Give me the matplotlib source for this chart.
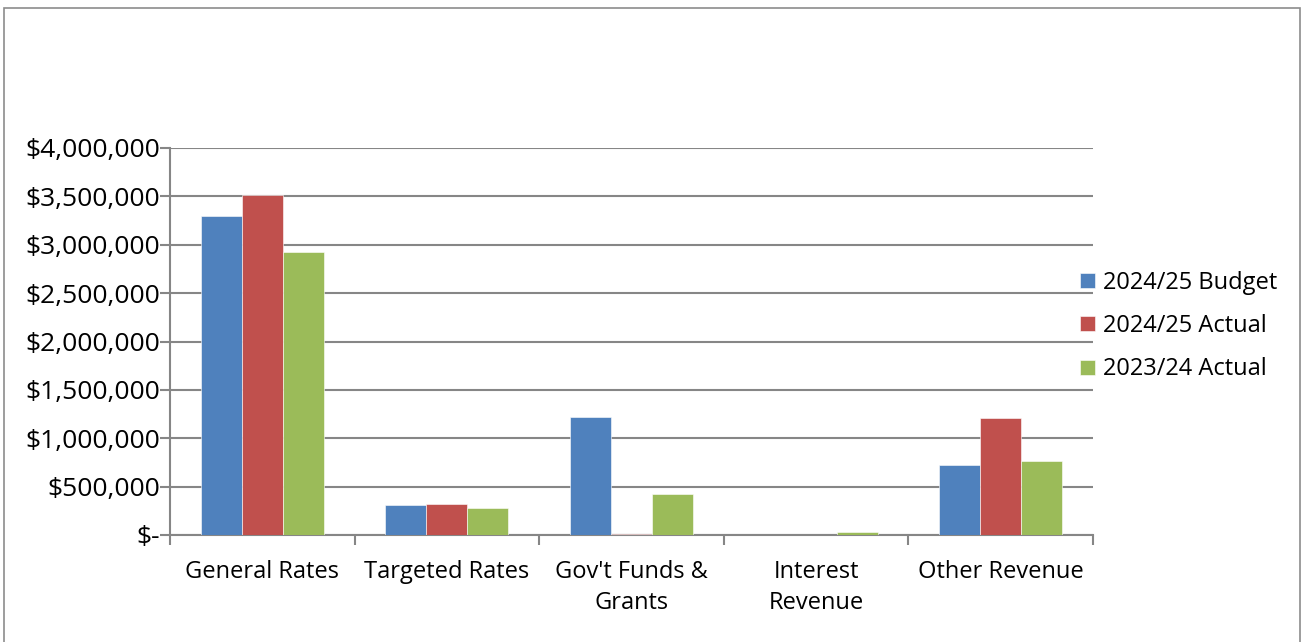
import numpy as np
import matplotlib.pyplot as plt
from matplotlib.patches import Rectangle
from matplotlib.ticker import FuncFormatter, MultipleLocator

plt.rcParams['font.family'] = ['Open Sans', 'DejaVu Sans']

categories = ["General Rates", "Targeted Rates", "Gov't Funds &\nGrants",
              "Interest\nRevenue", "Other Revenue"]
budget_2425 = [3295000, 315000, 1215000, 5000, 720000]
actual_2425 = [3510000, 322000, 15000, 3000, 1210000]
actual_2324 = [2920000, 275000, 420000, 35000, 767000]

series = [("2024/25 Budget", budget_2425, "#4f81bd"),
          ("2024/25 Actual", actual_2425, "#c0504d"),
          ("2023/24 Actual", actual_2324, "#9bbb59")]

fig = plt.figure(figsize=(13.05, 6.42), dpi=100)
ax = fig.add_axes([170 / 1305, 107 / 642, 923 / 1305, 387 / 642])

# outer chart frame
fig.patches.append(Rectangle((4 / 1305, -0.05), 1296 / 1305, 1.05 - 8 / 642,
                             transform=fig.transFigure, fill=False,
                             edgecolor="#8c8c8c", linewidth=1.2))

x = np.arange(len(categories))
w = 1 / 4.5
for i, (name, vals, col) in enumerate(series):
    ax.bar(x + (i - 1) * w, vals, width=w, color=col, label=name,
           edgecolor="white", linewidth=0.4, zorder=3)

ax.set_xlim(-0.5, len(categories) - 0.5)
ax.set_ylim(0, 4000000)
ax.yaxis.set_major_locator(MultipleLocator(500000))


def money(v, pos):
    if v == 0:
        return "$-"
    return "${:,.0f}".format(v)


ax.yaxis.set_major_formatter(FuncFormatter(money))
ax.grid(axis="y", color="#868686", linewidth=1.5, zorder=0)

for s in ["top", "right"]:
    ax.spines[s].set_visible(False)
for s in ["left", "bottom"]:
    ax.spines[s].set_color("#868686")
    ax.spines[s].set_linewidth(1.5)

ax.set_xticks(x)
ax.set_xticklabels(categories, fontsize=17, linespacing=1.4)
ax.set_xticks(np.arange(len(categories) + 1) - 0.5, minor=True)
ax.tick_params(axis="x", which="major", length=0, pad=18)
ax.tick_params(axis="x", which="minor", length=7, width=1.5, color="#868686")
ax.tick_params(axis="y", length=7, width=1.5, color="#868686", labelsize=19, pad=0)

ax.legend(loc="center left", bbox_to_anchor=(1071 / 1305, 316 / 642),
          bbox_transform=fig.transFigure, frameon=False, fontsize=17,
          handlelength=0.6, handleheight=0.6, handletextpad=0.35,
          labelspacing=0.82, borderaxespad=0)

fig.savefig("out.png", dpi=100)
